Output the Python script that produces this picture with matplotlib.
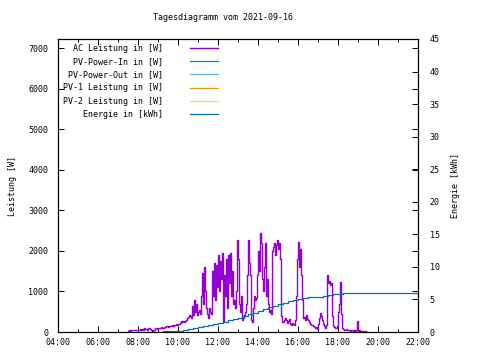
import numpy as np
import matplotlib
matplotlib.use("Agg")
import matplotlib.pyplot as plt
from matplotlib.ticker import MultipleLocator, FuncFormatter

# --- data (gnuplot daily chart) ---
title = "Tagesdiagramm vom 2021-09-16"

# AC power, one sample every 3 minutes starting 07:30
ac_start = "07:30"
ac_step_min = 3
ac_watts = [
    20, 40, 30, 50, 40, 40, 60, 40, 50, 40,                      # 07:30
    50, 60, 70, 50, 80, 60, 90, 70, 80, 60,                      # 08:00
    90, 110, 70, 40, 30, 60, 50, 90, 100, 80,                    # 08:30
    110, 90, 100, 120, 110, 100, 130, 120, 140, 150,             # 09:00
    130, 150, 160, 140, 170, 160, 180, 170, 190, 180,            # 09:30
    200, 190, 230, 260, 240, 270, 250, 280, 300, 350,            # 10:00
    380, 420, 400, 350, 650, 420, 790, 500, 700, 430,            # 10:30
    500, 550, 450, 900, 1450, 700, 1600, 1000, 600, 450,         # 11:00
    350, 600, 500, 450, 1500, 900, 1700, 800, 1650, 1100,        # 11:30
    1900, 1000, 1750, 1300, 1950, 250, 1400, 900, 1800, 600,     # 12:00
    1900, 1200, 1950, 900, 1500, 700, 800, 600, 1000, 2270,      # 12:30
    1800, 700, 500, 900, 300, 350, 420, 500, 700, 1400,          # 13:00
    2270, 1700, 1400, 300, 250, 600, 900, 800, 850, 1400,        # 13:30
    2000, 1500, 2450, 2200, 1300, 1000, 1600, 2200, 900, 1300,   # 14:00
    700, 500, 550, 450, 2000, 2100, 2200, 1900, 2150, 2270,      # 14:30
    2050, 2200, 1800, 400, 250, 250, 300, 350, 300, 220,         # 15:00
    260, 320, 200, 180, 230, 200, 180, 300, 900, 1800,           # 15:30
    2220, 1600, 2050, 1400, 800, 350, 380, 300, 420, 320,        # 16:00
    300, 250, 200, 180, 170, 150, 120, 100, 130, 80,             # 16:30
    200, 350, 470, 400, 300, 200, 150, 100, 180, 1400,           # 17:00
    1200, 1250, 1150, 1200, 400, 150, 120, 100, 110, 150,        # 17:30
    500, 700, 1230, 450, 100, 80, 60, 50, 70, 60,                # 18:00
    40, 60, 30, 50, 40, 20, 40, 30, 50, 280,                     # 18:30
    20, 40, 20, 30, 20, 30, 10, 20, 10, 0,                       # 19:00
]

# cumulative energy in kWh
energy_times = ["08:30", "08:45", "09:00", "09:15", "09:30", "09:45", "10:00",
                "10:15", "10:30", "10:45", "11:00", "11:15", "11:30", "11:45",
                "12:00", "12:15", "12:30", "12:45", "13:00", "13:15", "13:30",
                "13:45", "14:00", "14:15", "14:30", "14:45", "15:00", "15:15",
                "15:30", "15:45", "16:00", "16:15", "16:30", "16:45", "17:00",
                "17:15", "17:30", "17:45", "18:00", "18:15", "22:00"]
energy_kwh = [0.0, 0.02, 0.05, 0.08, 0.12, 0.17, 0.22, 0.32, 0.45, 0.57, 0.7,
              0.85, 1.0, 1.2, 1.4, 1.6, 1.78, 2.0, 2.2, 2.45, 2.75, 2.95, 3.2,
              3.5, 3.8, 4.0, 4.25, 4.5, 4.7, 4.9, 5.1, 5.2, 5.3, 5.38, 5.45,
              5.55, 5.7, 5.8, 5.9, 6.0, 6.0]

labels = ["AC Leistung in [W]", "PV-Power-In in [W]", "PV-Power-Out in [W]",
          "PV-1 Leistung in [W]", "PV-2 Leistung in [W]", "Energie in [kWh]"]
colors = ["#9400d3", "#009e73", "#56b4e9", "#e69f00", "#f0e442", "#0072b2"]


def hours(s):
    h, m = s.split(":")
    return int(h) + int(m) / 60


t0 = hours(ac_start)
ac_t = t0 + np.arange(len(ac_watts)) * ac_step_min / 60
en_t = [hours(s) for s in energy_times]

plt.rcParams["font.family"] = "DejaVu Sans Mono"
plt.rcParams["font.size"] = 6

fig = plt.figure(figsize=(4.8, 3.6), dpi=100)
ax = fig.add_axes([58/480, 1 - 332/360, 360/480, 293/360])
ax2 = ax.twinx()

lines = []
lines += ax.plot(ac_t, ac_watts, color=colors[0], lw=1.0, drawstyle="steps-post")
for c in colors[1:5]:
    lines += ax.plot([], [], color=c, lw=0.9)
lines += ax2.plot(en_t, energy_kwh, color=colors[5], lw=0.9, drawstyle="steps-post")

ax.set_xlim(4, 22)
ax.set_ylim(0, 7226)
ax2.set_ylim(0, 45)

ax.xaxis.set_major_locator(MultipleLocator(2))
ax.xaxis.set_minor_locator(MultipleLocator(1))
ax.xaxis.set_major_formatter(FuncFormatter(lambda v, p: f"{int(v):02d}:00"))
ax.yaxis.set_major_locator(MultipleLocator(1000))
ax2.yaxis.set_major_locator(MultipleLocator(5))

ax.tick_params(axis="x", which="both", direction="in", top=True, pad=4)
ax.tick_params(axis="x", which="major", length=4, width=0.7)
ax.tick_params(axis="x", which="minor", length=2, width=0.7)
ax.tick_params(axis="y", direction="in", right=True, length=4, width=0.7, pad=7)
ax2.tick_params(axis="y", direction="in", length=4, width=0.7, pad=8.5)
for a in (ax, ax2):
    for s in a.spines.values():
        s.set_linewidth(0.8)

ax.set_ylabel("Leistung [W]", labelpad=8)
ax2.set_ylabel("Energie [kWh]", labelpad=8)
ax2.yaxis.label.set_rotation(90)
fig.text(223/480, 1 - 18/360, title, ha="center", va="center")

leg = ax.legend(lines, labels, loc="upper left", bbox_to_anchor=(0.0, 1.0),
                frameon=False, markerfirst=False, handlelength=3.4,
                handletextpad=3.2, labelspacing=0.5, borderaxespad=0.3,
                borderpad=0.3)

fig.savefig("out.png", dpi=100)
